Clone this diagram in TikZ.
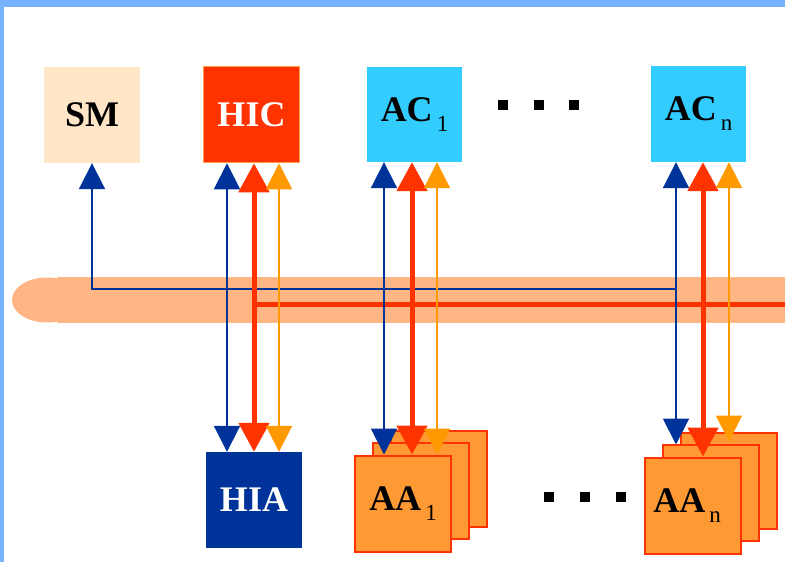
\documentclass[tikz,border=0pt]{standalone}
\usepackage{fontspec}
\setmainfont{Liberation Serif}
\usetikzlibrary{arrows.meta,shadows}

\definecolor{frameblue}{HTML}{76B2FF}
\definecolor{smfill}{HTML}{FFE6C6}
\definecolor{hicred}{HTML}{FF3300}
\definecolor{hicrim}{HTML}{FFA040}
\definecolor{accyan}{HTML}{33CCFF}
\definecolor{hianavy}{HTML}{003399}
\definecolor{aaorange}{HTML}{FF9933}
\definecolor{linkorange}{HTML}{FF9900}
\definecolor{busfill}{HTML}{FFB584}

\newcommand{\subidx}[1]{\kern4pt\raisebox{-10pt}{\fontsize{23}{23}\selectfont\mdseries #1}}

\tikzset{
  box/.style={minimum width=96pt,minimum height=96pt,inner sep=0pt,
    font=\fontsize{36}{40}\selectfont\bfseries},
  stack/.style={box,fill=aaorange,draw=hicred,line width=2pt,
    double copy shadow={shadow xshift=18pt,shadow yshift=12.5pt}},
  thintip/.tip={Triangle[width=26pt,length=26pt]},
  fattip/.tip={Triangle[width=30pt,length=29pt]},
  bluelink/.style={draw=hianavy,line width=2pt},
  redlink/.style={draw=hicred,line width=5pt},
  orglink/.style={draw=linkorange,line width=2pt},
}

\begin{document}
\begin{tikzpicture}[x=1pt,y=-1pt]
      \useasboundingbox (0,0) rectangle (785,562);
      \fill[frameblue] (0,0) rectangle (785,7);
      \fill[frameblue] (0,0) rectangle (4,562);

      % bus
      \fill[busfill] (47,300) ellipse (35 and 22.5);
      \fill[busfill] (57,277) rectangle (785,323);

      \node[box,fill=smfill] (SM) at (92,115) {SM};
      \node[box,fill=hicred,draw=hicrim,line width=1.5pt,text=white] (HIC) at (251.5,114.5) {HIC};
      \node[box,fill=accyan,minimum width=95pt,minimum height=95pt] (AC1) at (414.5,114.5) {AC\subidx{1}};
      \node[box,fill=accyan,minimum width=95pt] (ACn) at (698.5,114) {AC\subidx{n}};
      \node[box,fill=hianavy,text=white] (HIA) at (254,500) {HIA};
      \node[stack] (AA1) at (403,503.5) {AA\subidx{1}};
      \node[stack] (AAn) at (693,505.5) {\hspace*{-12pt}AA\subidx{n}};

      \foreach \x in {503,539,574} \fill (\x-5,100) rectangle ++(10,10);
      \foreach \x in {549,585,621} \fill (\x-5,492) rectangle ++(10,10);

      \coordinate (busR) at (254,304);
      \coordinate (busEnd) at (785,304);
      \coordinate (busB) at (676,289);
      \coordinate (AAnmid) at ([yshift=12pt]AAn.north);
      \coordinate (AAnback) at ([yshift=15pt]AAn.north);

      \draw[redlink] (busR) -- (busEnd);
      \draw[bluelink,-thintip] (busB) -| (SM.south);

      \draw[bluelink,thintip-thintip] (HIC.south -| 227,0) -- (HIA.north -| 227,0);
      \draw[redlink,fattip-fattip] (HIC.south -| 254,0) -- (HIA.north -| 254,0);
      \draw[orglink,thintip-thintip] (HIC.south -| 279,0) -- (HIA.north -| 279,0);

      \draw[bluelink,thintip-thintip] (AC1.south -| 384,0) -- (AA1.north -| 384,0);
      \draw[redlink,fattip-fattip] (AC1.south -| 412,0) -- (AA1.north -| 412,0);
      \draw[orglink,thintip-thintip] (AC1.south -| 437,0) -- (AA1.north -| 437,0);

      \draw[bluelink,thintip-thintip] (ACn.south -| 676,0) -- (AAnmid -| 676,0);
      \draw[redlink,fattip-fattip] (ACn.south -| 703,0) -- (AAn.north -| 703,0);
      \draw[orglink,thintip-thintip] (ACn.south -| 729,0) -- (AAnback -| 729,0);

\end{tikzpicture}
\end{document}
